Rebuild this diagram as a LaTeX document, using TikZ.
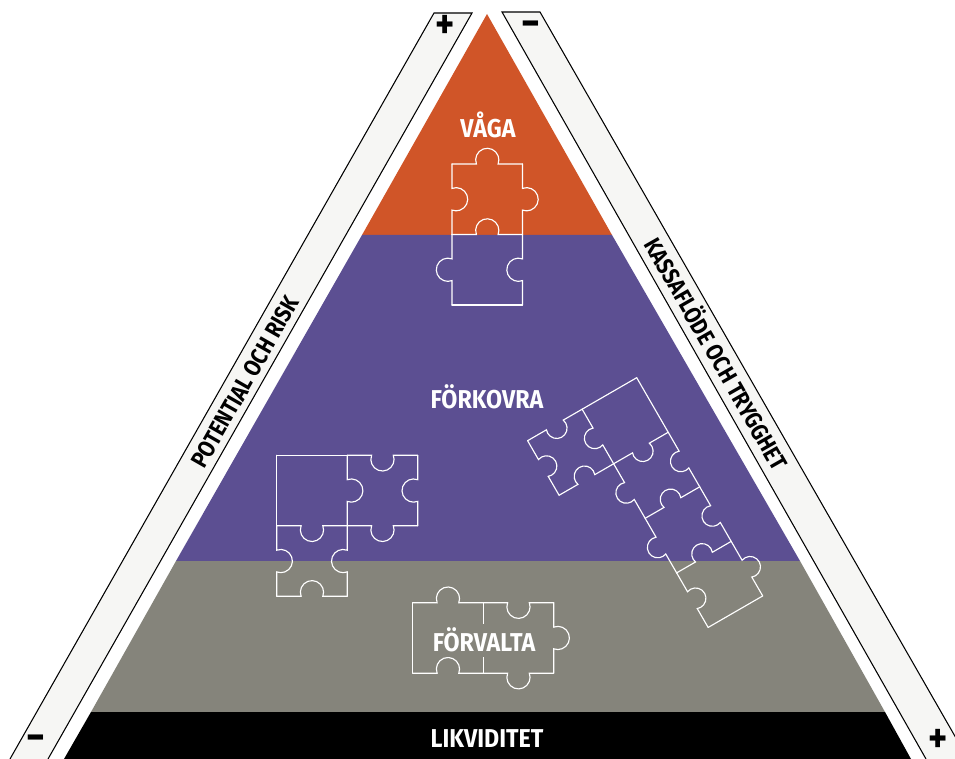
\documentclass[tikz,border=0pt]{standalone}
\usepackage{fontspec}
\setmainfont{Fira Sans}[FakeStretch=0.86]
\newfontfamily\levelfont{Fira Sans}[FakeStretch=0.9]
\definecolor{vagacol}{HTML}{D05528}
\definecolor{forkcol}{HTML}{5C4F92}
\definecolor{forvcol}{HTML}{85847B}
\definecolor{bandcol}{HTML}{F6F6F4}
\tikzset{
  pzline/.style={white,line width=0.65pt,line cap=round},
  band/.style={fill=bandcol},
  bandedge/.style={black,line width=0.6pt},
  level/.style={white,font=\levelfont\bfseries\fontsize{14.7}{17}\selectfont,inner sep=1pt},
  bandtext/.style={black,font=\bfseries\fontsize{13.5}{15}\selectfont,inner sep=0pt},
  sign/.style={black,font=\bfseries\fontsize{24}{26}\selectfont,inner sep=0pt}
}
\newcommand{\pzbump}{\draw[pzline] (0,0) -- (24.4,0) arc (159.3:380.7:11.6) -- (70.5,0);}
\newcommand{\pzh}[1]{\foreach \i/\j/\s in {#1} {\begin{scope}[shift={(\i*70.5,\j*70.5)},yscale=\s]\pzbump\end{scope}}}
\newcommand{\pzv}[1]{\foreach \i/\j/\s in {#1} {\begin{scope}[shift={(\i*70.5,\j*70.5)},rotate=-90,yscale=\s]\pzbump\end{scope}}}
\newcommand{\pzfh}[1]{\foreach \i/\j in {#1} \draw[pzline] (\i*70.5,\j*70.5) -- ++(70.5,0);}
\newcommand{\pzfv}[1]{\foreach \i/\j in {#1} \draw[pzline] (\i*70.5,\j*70.5) -- ++(0,70.5);}
\begin{document}
\begin{tikzpicture}[x=0.02cm,y=-0.02cm]
\useasboundingbox (0,0) rectangle (955,759);
\clip (0,0) rectangle (955,759);
\fill[white] (0,0) rectangle (955,759);

\fill[band] (434,13) -- (472,13) -- (48,759) -- (10,759) -- cycle;
\fill[band] (502,12) -- (540,12) -- (968,759) -- (926,759) -- cycle;
\draw[bandedge] (10,759) -- (434,13) -- (472,13) -- (48,759);
\draw[bandedge] (926,759) -- (502,12) -- (540,12) -- (968,759);

\fill[vagacol] (487,14) -- (612,235) -- (362,235) -- cycle;
\fill[forkcol] (362,235) -- (612,235) -- (800,561) -- (176,561) -- cycle;
\fill[forvcol] (176,561) -- (800,561) -- (885,712) -- (91,712) -- cycle;
\fill[black] (91,712) -- (885,712) -- (911,759) -- (64,759) -- cycle;

\begin{scope}[shift={(452,164)}]
\pzh{0/0/1,0/1/1}
\pzv{0/0/1,1/0/1,0/1/-1,1/1/-1}
\pzfh{0/2}
\end{scope}

\begin{scope}[shift={(276.7,455.3)}]
\pzfh{0/0}
\pzfv{0/0}
\pzv{1/0/1,2/0/-1,0/1/1,1/1/-1}
\pzh{0/1/-1,1/0/-1,1/1/-1,0/2/1}
\end{scope}

\begin{scope}[shift={(412.7,602.7)}]
\pzfv{0/0,1/0}
\pzh{0/0/1,0/1/1,1/0/-1,1/1/-1}
\pzv{2/0/1}
\end{scope}

\begin{scope}[shift={(636.7,377.7)},rotate=-60,scale=0.8936]
\pzfv{0/0,4/0}
\pzfh{0/0}
\pzh{0/1/-1,0/2/1,1/0/-1,1/1/-1,2/0/-1,2/1/-1,3/0/1,3/1/1}
\pzv{0/1/1,1/1/-1,1/0/1,2/0/-1,3/0/-1}
\end{scope}

\node[level] (vaga) at (488,125) {VÅGA};
\node[level] (forkovra) at (487,397) {FÖRKOVRA};
\node[level,fill=forvcol,minimum height=33*0.02cm] (forvalta) at (484,640) {FÖRVALTA};
\node[level] (likviditet) at (487,738.5) {LIKVIDITET};

\node[bandtext,rotate=60.3] (risk) at (245,382) {POTENTIAL OCH RISK};
\node[bandtext,rotate=-60.3] (kassa) at (718,353) {KASSAFLÖDE OCH TRYGGHET};

\node[sign] (plustop) at (445,27) {+};
\node[sign] (minustop) at (531,29) {−};
\node[sign] (minusbot) at (36,743) {−};
\node[sign] (plusbot) at (938,741) {+};
\end{tikzpicture}
\end{document}
